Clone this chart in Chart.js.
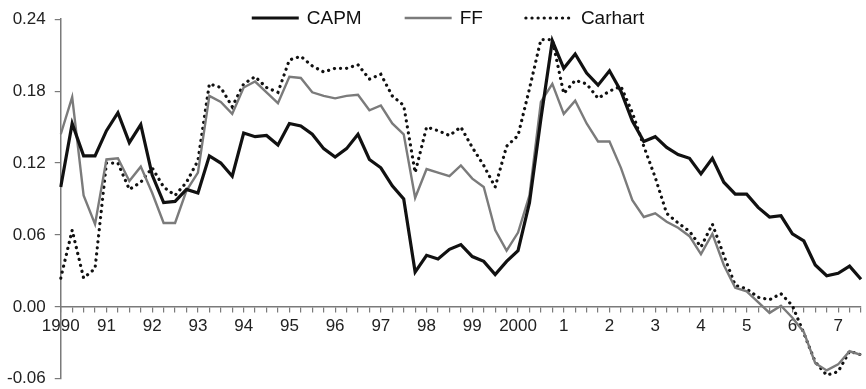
<!DOCTYPE html>
<html>
<head>
<meta charset="utf-8">
<script src="https://cdn.jsdelivr.net/npm/chart.js@4"></script>
<style>
  html, body { margin: 0; padding: 0; background: #fff; overflow: hidden; }
  #wrap { width: 866px; height: 398px; }
</style>
</head>
<body>
<div id="wrap"><canvas id="Chart1"></canvas></div>
<script>
// quarterly series, 1990Q1 .. 2007Q3
const yearLabels = ['1990', '91', '92', '93', '94', '95', '96', '97', '98', '99',
                    '2000', '1', '2', '3', '4', '5', '6', '7'];
const capm = [
  0.100, 0.153, 0.126, 0.126, 0.147, 0.162, 0.137, 0.152, 0.110, 0.087,
  0.088, 0.098, 0.095, 0.126, 0.120, 0.109, 0.145, 0.142, 0.143, 0.135,
  0.153, 0.151, 0.144, 0.132, 0.125, 0.132, 0.144, 0.123, 0.116, 0.101,
  0.090, 0.029, 0.043, 0.040, 0.048, 0.052, 0.042, 0.038, 0.027, 0.038,
  0.047, 0.087, 0.157, 0.222, 0.199, 0.211, 0.195, 0.185, 0.197, 0.180,
  0.155, 0.138, 0.142, 0.133, 0.127, 0.124, 0.111, 0.124, 0.104, 0.094,
  0.094, 0.083, 0.075, 0.076, 0.061, 0.055, 0.035, 0.026, 0.028, 0.034,
  0.023
];
const ff = [
  0.144, 0.175, 0.093, 0.069, 0.123, 0.124, 0.105, 0.117, 0.095, 0.070,
  0.070, 0.097, 0.112, 0.176, 0.171, 0.161, 0.183, 0.188, 0.179, 0.170,
  0.192, 0.191, 0.179, 0.176, 0.174, 0.176, 0.177, 0.164, 0.168, 0.153,
  0.144, 0.091, 0.115, 0.112, 0.109, 0.118, 0.107, 0.100, 0.064, 0.047,
  0.062, 0.093, 0.171, 0.186, 0.161, 0.172, 0.153, 0.138, 0.138, 0.116,
  0.089, 0.075, 0.078, 0.071, 0.066, 0.059, 0.044, 0.061, 0.035, 0.016,
  0.013, 0.004, -0.005, 0.001, -0.009, -0.021, -0.047, -0.053, -0.048, -0.037,
  -0.040
];
const carhart = [
  0.024, 0.064, 0.024, 0.032, 0.120, 0.120, 0.098, 0.104, 0.116, 0.100,
  0.093, 0.104, 0.122, 0.186, 0.183, 0.167, 0.186, 0.192, 0.183, 0.179,
  0.206, 0.209, 0.201, 0.196, 0.199, 0.199, 0.202, 0.190, 0.194, 0.176,
  0.168, 0.112, 0.150, 0.147, 0.143, 0.150, 0.133, 0.118, 0.100, 0.134,
  0.143, 0.182, 0.223, 0.223, 0.178, 0.189, 0.186, 0.174, 0.180, 0.184,
  0.162, 0.134, 0.108, 0.078, 0.070, 0.063, 0.050, 0.069, 0.043, 0.018,
  0.015, 0.008, 0.006, 0.011, 0.001, -0.022, -0.046, -0.057, -0.054, -0.037,
  -0.040
];

const quarters = [];
for (let i = 0; i < capm.length; i++) {
  quarters.push((1990 + Math.floor(i / 4)) + 'Q' + (i % 4 + 1));
}

const font = '"Liberation Sans", Arial, sans-serif';
const axisGray = '#7a7a7a';

// legend drawn over the top of the plot, like the original
const topLegend = {
  id: 'topLegend',
  afterDraw(chart) {
    const ctx = chart.ctx;
    ctx.save();
    ctx.font = '19px ' + font;
    const sample = 47, gap = 8, space = 43;
    const sets = chart.data.datasets;
    const widths = sets.map(d => sample + gap + ctx.measureText(d.label).width);
    const total = widths.reduce((a, b) => a + b, 0) + space * (widths.length - 1);
    let x = 448 - total / 2;
    const y = 18;
    sets.forEach((d, i) => {
      ctx.beginPath();
      ctx.strokeStyle = d.borderColor;
      ctx.lineWidth = d.borderWidth;
      ctx.setLineDash(d.borderDash || []);
      ctx.lineCap = d.borderCapStyle || 'butt';
      ctx.moveTo(x, y);
      ctx.lineTo(x + sample, y);
      ctx.stroke();
      ctx.setLineDash([]);
      ctx.fillStyle = '#111';
      ctx.textBaseline = 'middle';
      ctx.fillText(d.label, x + sample + gap, y + 1);
      x += widths[i] + space;
    });
    ctx.restore();
  }
};

const data1 = {
  labels: quarters,
  datasets: [
    {
      label: 'CAPM',
      data: capm,
      borderColor: '#111111',
      borderWidth: 3.2,
      pointRadius: 0,
      tension: 0
    },
    {
      label: 'FF',
      data: ff,
      borderColor: '#7b7b7b',
      borderWidth: 2.4,
      pointRadius: 0,
      tension: 0
    },
    {
      label: 'Carhart',
      data: carhart,
      borderColor: '#111111',
      borderWidth: 3.2,
      borderDash: [0.1, 6],
      borderCapStyle: 'round',
      pointRadius: 0,
      tension: 0
    }
  ]
};

const config1 = {
  type: 'line',
  data: data1,
  options: {
    responsive: true,
    maintainAspectRatio: false,
    animation: false,
    layout: { padding: { top: 10, left: -2, right: 5, bottom: 0 } },
    scales: {
      x: {
        position: { y: 0 },
        offset: false,
        border: { display: true, color: axisGray, width: 1.5 },
        grid: { drawOnChartArea: false, drawTicks: true, tickLength: 5, color: axisGray, lineWidth: 1.2 },
        ticks: {
          autoSkip: false,
          maxRotation: 0,
          padding: 4,
          color: '#222',
          font: { family: font, size: 17 },
          callback: function (val, i) {
            return i % 4 === 0 ? yearLabels[i / 4] : '';
          }
        }
      },
      y: {
        min: -0.06,
        max: 0.24,
        border: { display: true, color: axisGray, width: 1.5 },
        grid: { drawOnChartArea: false, drawTicks: true, tickLength: 6, color: axisGray, lineWidth: 1.2 },
        ticks: {
          stepSize: 0.06,
          padding: 9,
          color: '#222',
          font: { family: font, size: 17 },
          callback: v => v.toFixed(2)
        }
      }
    },
    plugins: {
      legend: { display: false },
      tooltip: { enabled: false }
    }
  },
  plugins: [topLegend]
};

const myChart1 = new Chart(document.getElementById('Chart1'), config1);
</script>
</body>
</html>
